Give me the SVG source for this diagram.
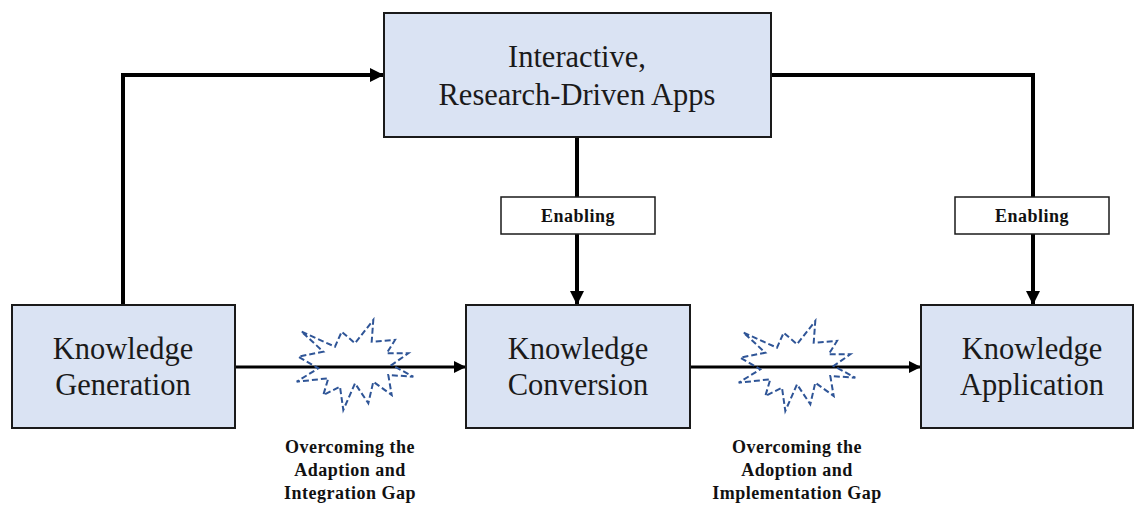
<svg xmlns="http://www.w3.org/2000/svg" width="1135" height="506" viewBox="0 0 1135 506">
<defs>
<style>
.node{fill:#DAE3F3;stroke:#1a1a1a;stroke-width:2}
.lbl{fill:#fff;stroke:#1a1a1a;stroke-width:1.5}
.big{font-size:30.5px;fill:#1a1a1a;text-anchor:middle}
.small{font-size:18px;font-weight:bold;letter-spacing:0.5px;fill:#111;text-anchor:middle}
.thick{fill:none;stroke:#000;stroke-width:4}
.thin{fill:none;stroke:#000;stroke-width:3}
.star{fill:none;stroke:#2F5597;stroke-width:2;stroke-dasharray:6 3}
</style>
<marker id="ah" markerUnits="userSpaceOnUse" markerWidth="14" markerHeight="14" refX="14" refY="7" orient="auto">
<path d="M0,0 L14,7 L0,14 Z" fill="#000"/>
</marker>
<marker id="ahs" markerUnits="userSpaceOnUse" markerWidth="12" markerHeight="12" refX="12" refY="6" orient="auto">
<path d="M0,0 L12,6 L0,12 Z" fill="#000"/>
</marker>
<path id="burst" d="M301.7,331.7 L335,346.7 L341.7,331.7 L355,343.3 L373.3,320 L371.7,341.7 L395,340 L386.7,353.3 L408.3,353.3 L391.7,365 L413.3,376.7 L388.3,375 L391.7,395 L373.3,381.7 L368.3,403.3 L355,383.3 L343.3,410 L340,386.7 L323.3,395 L328.3,378.3 L296.7,381.7 L318.3,368.3 L298.3,356.7 L323.3,351.7 Z"/>
</defs>
<rect width="1135" height="506" fill="#fff"/>
<g id="connectors">
<polyline class="thick" points="123,305 123,75 384,75" marker-end="url(#ah)"/>
<line class="thick" x1="577" y1="137" x2="577" y2="197"/>
<line class="thick" x1="577" y1="234" x2="577" y2="305" marker-end="url(#ah)"/>
<polyline class="thick" points="771,75 1033,75 1033,197"/>
<line class="thick" x1="1033" y1="234" x2="1033" y2="305" marker-end="url(#ah)"/>
<line class="thin" x1="235" y1="367" x2="466" y2="367" marker-end="url(#ahs)"/>
<line class="thin" x1="690" y1="367" x2="921" y2="367" marker-end="url(#ahs)"/>
</g>
<g id="burst1"><use href="#burst" class="star"/></g>
<g id="burst2"><use href="#burst" class="star" transform="translate(442,1)"/></g>
<g font-family="Liberation Serif, Times New Roman, serif">
<g id="apps">
<rect class="node" x="384" y="13" width="387" height="124"/>
<text class="big" x="577" y="67">Interactive,</text>
<text class="big" x="577" y="105">Research-Driven Apps</text>
</g>
<g id="enabling1">
<rect class="lbl" x="501" y="197" width="154" height="37"/>
<text class="small" x="578" y="222">Enabling</text>
</g>
<g id="enabling2">
<rect class="lbl" x="955" y="197" width="154" height="37"/>
<text class="small" x="1032" y="222">Enabling</text>
</g>
<g id="generation">
<rect class="node" x="12" y="305" width="223" height="123"/>
<text class="big" x="123" y="359">Knowledge</text>
<text class="big" x="123" y="395">Generation</text>
</g>
<g id="conversion">
<rect class="node" x="466" y="305" width="224" height="123"/>
<text class="big" x="578" y="359">Knowledge</text>
<text class="big" x="578" y="395">Conversion</text>
</g>
<g id="application">
<rect class="node" x="921" y="305" width="212" height="123"/>
<text class="big" x="1032" y="359">Knowledge</text>
<text class="big" x="1032" y="395">Application</text>
</g>
<g id="gap1">
<text class="small" x="350" y="453">Overcoming the</text>
<text class="small" x="350" y="476">Adaption and</text>
<text class="small" x="350" y="499">Integration Gap</text>
</g>
<g id="gap2">
<text class="small" x="797" y="453">Overcoming the</text>
<text class="small" x="797" y="476">Adoption and</text>
<text class="small" x="797" y="499">Implementation Gap</text>
</g>
</g>
</svg>
